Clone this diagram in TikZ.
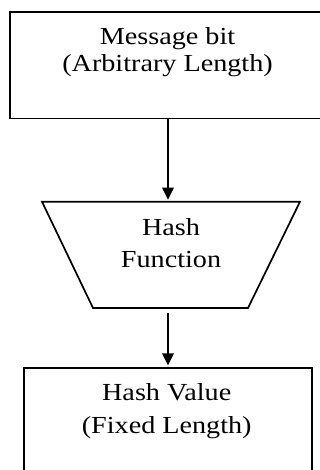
\documentclass[tikz,border=0pt]{standalone}
\usepackage{fontspec}
\setmainfont[FakeStretch=1.15]{Liberation Serif}
\usetikzlibrary{arrows.meta}
\begin{document}
\begin{tikzpicture}[x=1pt,y=1pt,
  boxline/.style={draw=black, line width=1.7pt, inner sep=0pt, fill=none},
  txt/.style={anchor=base, inner sep=0pt, font=\fontsize{24.5}{29}\selectfont},
  conn/.style={line width=1.6pt, -{Triangle[width=11.5pt,length=12pt]}}]
\useasboundingbox (0,0) rectangle (320,470);
\clip (0,0) rectangle (320,470);
% top box
\node[boxline, minimum width=320pt, minimum height=106.5pt] (msg) at (170,404.75) {};
\node[txt] (msg1) at (167.5,425.5) {Message bit};
\node[txt] (msg2) at (167.5,398) {(Arbitrary Length)};
% hash function trapezoid
\draw[line width=1.7pt, line join=miter] (42,268.3) -- (300,268.3) -- (248,162) -- (93,162) -- cycle;
\coordinate (ftop) at (168,268.3);
\coordinate (fbot) at (168,162);
\node[txt] (hash1) at (171,234.5) {Hash};
\node[txt] (hash2) at (171,202.5) {Function};
% bottom box
\node[boxline, minimum width=288pt, minimum height=112.3pt] (val) at (168,46.15) {};
\node[txt] (val1) at (166.7,69.3) {Hash Value};
\node[txt] (val2) at (166.7,36.7) {(Fixed Length)};
% connectors
\draw[conn, shorten >=2pt] (msg.south -| ftop) -- (ftop);
\draw[conn, shorten <=5pt, shorten >=1.5pt] (fbot) -- (val.north -| fbot);
\end{tikzpicture}
\end{document}
